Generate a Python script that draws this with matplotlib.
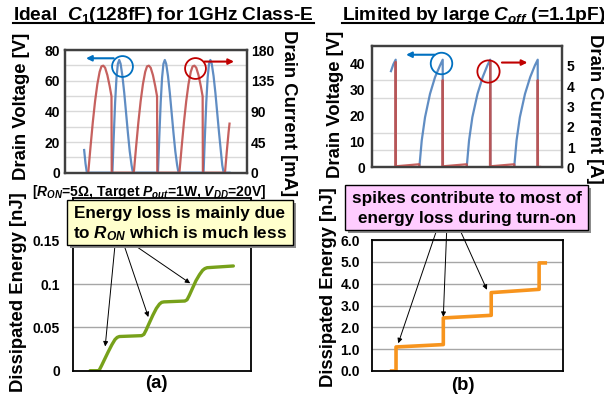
import matplotlib
matplotlib.use("Agg")
import matplotlib.pyplot as plt
from matplotlib.patches import Rectangle
from matplotlib.lines import Line2D
from matplotlib.ticker import MultipleLocator, FixedLocator

W, H = 604, 401
plt.rcParams['font.family'] = ['Liberation Sans', 'DejaVu Sans']
plt.rcParams['font.weight'] = 'bold'
plt.rcParams['mathtext.fontset'] = 'custom'
plt.rcParams['mathtext.rm'] = 'Liberation Sans:bold'
plt.rcParams['mathtext.it'] = 'Liberation Sans:italic:bold'
plt.rcParams['mathtext.bf'] = 'Liberation Sans:bold'

# ---------------- data ----------------
# (a) top: drain current [mA] vs time [ns]
cur_a_t = [0.51, 0.56, 0.61, 0.66, 0.71, 0.76, 0.80, 0.84, 0.88, 0.93, 0.98, 1.02, 1.025,
           1.51, 1.56, 1.61, 1.66, 1.71, 1.76, 1.80, 1.84, 1.88, 1.93, 1.98, 2.02, 2.025,
           2.51, 2.56, 2.61, 2.66, 2.71, 2.76, 2.80, 2.84, 2.88, 2.93, 2.98, 3.02, 3.025,
           3.51, 3.55, 3.59, 3.61]
cur_a_v = [0, 38, 74, 105, 130, 148, 156, 157, 154, 143, 127, 112, 0,
           0, 38, 74, 105, 130, 148, 156, 157, 154, 143, 127, 112, 0,
           0, 38, 74, 105, 130, 148, 156, 157, 154, 143, 127, 112, 0,
           0, 31, 60, 72]
# (a) top: drain voltage [V]
vol_a_t = [0.42, 0.45, 0.48,
           1.04, 1.07, 1.10, 1.13, 1.16, 1.19, 1.22, 1.26, 1.30, 1.34, 1.38, 1.42, 1.46, 1.49,
           2.04, 2.07, 2.10, 2.13, 2.16, 2.19, 2.22, 2.26, 2.30, 2.34, 2.38, 2.42, 2.46, 2.49,
           3.04, 3.07, 3.10, 3.13, 3.16, 3.19, 3.22, 3.26, 3.30, 3.34, 3.38, 3.42, 3.45, 3.48,
           3.61]
vol_a_v = [14.8, 6, 0,
           0, 24, 46, 62, 71, 73.5, 71, 63, 52, 39, 26, 14, 5, 0,
           0, 24, 46, 62, 71, 73.5, 71, 63, 52, 39, 26, 14, 5, 0,
           0, 24, 46, 62, 71, 73.5, 71, 63, 52, 39, 26, 14, 5, 0,
           0]
# (a) bottom: dissipated energy [nJ]
en_a_t = [0.39, 0.575, 0.60, 0.65, 0.72, 0.80, 0.88, 0.95, 1.00, 1.05,
          1.55, 1.60, 1.65, 1.72, 1.80, 1.88, 1.95, 2.00, 2.05,
          2.52, 2.57, 2.62, 2.69, 2.77, 2.85, 2.92, 2.97, 3.02, 3.61]
en_a_v = [0, 0, 0.001, 0.006, 0.0135, 0.022, 0.030, 0.036, 0.0385, 0.0395,
          0.0405, 0.042, 0.047, 0.055, 0.064, 0.072, 0.077, 0.0790, 0.0795,
          0.0805, 0.082, 0.087, 0.095, 0.104, 0.111, 0.116, 0.118, 0.119, 0.121]

# (b) top: drain current [A]
cur_b_t = [0.39, 0.505, 0.51, 0.515, 1.01, 1.015, 1.505, 1.51, 1.515, 2.02, 2.025,
           2.515, 2.52, 2.525, 3.03, 3.035, 3.525, 3.53, 3.535, 3.58]
cur_b_v = [0, 0, 5.2, 0.05, 0.15, 0, 0, 4.3, 0.05, 0.15, 0,
           0, 5.2, 0.05, 0.15, 0, 0, 4.3, 0.02, 0.02]
# (b) top: drain voltage [V]
vol_b_t = [0.41, 0.46, 0.51, 0.512,
           1.013, 1.064, 1.134, 1.24, 1.347, 1.453, 1.51, 1.512,
           2.02, 2.07, 2.14, 2.25, 2.36, 2.46, 2.52, 2.522,
           3.03, 3.08, 3.15, 3.26, 3.37, 3.47, 3.53, 3.532, 3.58]
vol_b_v = [36.9, 39.5, 41.3, 0,
           0, 10.3, 19.2, 28.2, 34.6, 39.1, 41.3, 0,
           0, 10.3, 19.2, 28.2, 34.6, 39.1, 41.3, 0,
           0, 10.3, 19.2, 28.2, 34.6, 39.1, 41.3, 0, 0]
# (b) bottom: dissipated energy [nJ]
en_b_t = [0.42, 0.513, 0.513, 1.51, 1.51, 2.52, 2.52, 3.53, 3.53, 3.66]
en_b_v = [0, 0, 1.10, 1.21, 2.43, 2.55, 3.59, 3.74, 4.95, 4.95]

ticks_a_v = [0, 20, 40, 60, 80]
ticks_a_i = [0, 45, 90, 135, 180]
ticks_b_v = [0, 10, 20, 30, 40]
ticks_b_i = [0, 1, 2, 3, 4, 5]
ticks_ea = [0, 0.05, 0.1, 0.15]
ticks_ea_lbl = ['0', '0.05', '0.1', '0.15']
ticks_eb = [0, 1, 2, 3, 4, 5, 6]
ticks_eb_lbl = ['0.0', '1.0', '2.0', '3.0', '4.0', '5.0', '6.0']

RED = '#C0504D'
BLUE = '#4F81BD'
GREEN = '#77A11A'
ORANGE = '#F7941D'

fig = plt.figure(figsize=(W / 100, H / 100), dpi=100)


def rect(l, t, r, b):
    return [l / W, 1 - b / H, (r - l) / W, (b - t) / H]


def ftext(x, y, s, **kw):
    return fig.text(x / W, 1 - y / H, s, **kw)


def frame(ax, color, lw):
    for sp in ax.spines.values():
        sp.set_color(color)
        sp.set_linewidth(lw)


# ---------- (a) top ----------
axA = fig.add_axes(rect(65, 50, 247.3, 172.7))
axA.set_xlim(0, 4)
axA.set_ylim(0, 80)
axA.set_xticks([])
axA.set_yticks(ticks_a_v)
axA.yaxis.set_minor_locator(MultipleLocator(10))
axA.grid(axis='y', which='both', color='#D9D9D9', lw=1.0)
axA.set_axisbelow(True)
axA.tick_params(axis='y', which='both', length=0, pad=3.6, labelsize=10)
axA.plot(vol_a_t, vol_a_v, color=BLUE, lw=1.6, alpha=0.9, zorder=3)
frame(axA, '#404040', 1.6)
axA2 = axA.twinx()
axA2.set_ylim(0, 180)
axA2.set_yticks(ticks_a_i)
axA2.tick_params(axis='y', length=0, pad=2.5, labelsize=10)
axA2.plot(cur_a_t, cur_a_v, color=RED, lw=1.6, alpha=0.9)
frame(axA2, '#404040', 1.6)
# circles and arrows
axA2.plot([1.24], [69.5 * 180 / 80], 'o', ms=15, mfc='none', mec='#0070C0', mew=1.3, zorder=5)
axA2.annotate('', xy=(0.40, 74.6 * 180 / 80), xytext=(1.13, 74.6 * 180 / 80),
              arrowprops=dict(arrowstyle='-|>', color='#0070C0', lw=1.5, mutation_scale=8))
axA2.plot([2.85], [153], 'o', ms=15, mfc='none', mec='#C00000', mew=1.3, zorder=5)
axA2.annotate('', xy=(3.77, 163), xytext=(3.0, 163),
              arrowprops=dict(arrowstyle='-|>', color='#C00000', lw=1.5, mutation_scale=8))

# ---------- (b) top ----------
axB = fig.add_axes(rect(371.7, 45.7, 561.7, 167.3))
axB.set_xlim(0, 4.04)
axB.set_ylim(0, 140 / 3)
axB.set_xticks([])
axB.set_yticks(ticks_b_v)
axB.yaxis.set_minor_locator(FixedLocator([20 / 3 * k for k in range(1, 7)]))
axB.grid(axis='y', which='minor', color='#D9D9D9', lw=1.0)
axB.grid(axis='y', which='major', visible=False)
axB.set_axisbelow(True)
axB.tick_params(axis='y', which='both', length=0, pad=4.8, labelsize=10)
axB.plot(vol_b_t, vol_b_v, color=BLUE, lw=1.6, alpha=0.9)
frame(axB, '#404040', 1.6)
axB2 = axB.twinx()
axB2.set_ylim(0, 6)
axB2.set_yticks(ticks_b_i)
axB2.tick_params(axis='y', length=0, pad=3.6, labelsize=10)
axB2.plot(cur_b_t, cur_b_v, color=RED, lw=1.6, alpha=0.9)
frame(axB2, '#404040', 1.6)
axB2.plot([1.474], [40 * 6 / (140 / 3)], 'o', ms=15.5, mfc='none', mec='#0070C0', mew=1.3, zorder=5)
axB2.annotate('', xy=(0.672, 43.2 * 6 / (140 / 3)), xytext=(1.396, 43.2 * 6 / (140 / 3)),
              arrowprops=dict(arrowstyle='-|>', color='#0070C0', lw=1.5, mutation_scale=8))
axB2.plot([2.468], [37 * 6 / (140 / 3)], 'o', ms=16, mfc='none', mec='#C00000', mew=1.3, zorder=5)
axB2.annotate('', xy=(3.37, 40.2 * 6 / (140 / 3)), xytext=(2.71, 40.2 * 6 / (140 / 3)),
              arrowprops=dict(arrowstyle='-|>', color='#C00000', lw=1.5, mutation_scale=8))

# ---------- (a) bottom ----------
axC = fig.add_axes(rect(72.7, 197.6, 250.7, 370.7))
axC.set_xlim(0, 4)
axC.set_ylim(0, 0.2)
axC.set_xticks([])
axC.set_yticks(ticks_ea)
axC.set_yticklabels(ticks_ea_lbl)
axC.grid(axis='y', color='#A6A6A6', lw=1.0)
axC.set_axisbelow(True)
axC.tick_params(axis='y', length=0, pad=9, labelsize=10)
axC.plot(en_a_t, en_a_v, color=GREEN, lw=2.4, solid_capstyle='round')
frame(axC, 'black', 1.3)
arrow_kw = dict(arrowstyle='-|>', color='black', lw=0.7, mutation_scale=7, shrinkA=0, shrinkB=0)
axC.annotate('', xy=(0.73, 0.028), xytext=(115, H - 245), textcoords='figure pixels', arrowprops=arrow_kw)
axC.annotate('', xy=(1.70, 0.062), xytext=(124, H - 245), textcoords='figure pixels', arrowprops=arrow_kw)
axC.annotate('', xy=(2.64, 0.101), xytext=(136.7, H - 246.7), textcoords='figure pixels', arrowprops=arrow_kw)

# ---------- (b) bottom ----------
axD = fig.add_axes(rect(371.7, 240, 563.3, 371))
axD.set_xlim(0, 4.04)
axD.set_ylim(0, 6)
axD.set_xticks([])
axD.set_yticks(ticks_eb)
axD.set_yticklabels(ticks_eb_lbl)
axD.grid(axis='y', color='#A6A6A6', lw=1.0)
axD.set_axisbelow(True)
axD.tick_params(axis='y', length=0, pad=8.4, labelsize=10)
axD.plot(en_b_t, en_b_v, color=ORANGE, lw=2.6)
frame(axD, 'black', 1.3)
axD.annotate('', xy=(0.56, 1.27), xytext=(436.7, H - 230), textcoords='figure pixels', arrowprops=arrow_kw)
axD.annotate('', xy=(1.51, 2.48), xytext=(446.7, H - 230), textcoords='figure pixels', arrowprops=arrow_kw)
axD.annotate('', xy=(2.43, 3.72), xytext=(460, H - 230), textcoords='figure pixels', arrowprops=arrow_kw)

# ---------- boxes ----------
def box(l, t, r, b, fc):
    sh = Rectangle((l / W + 3 / W, 1 - (b + 3) / H), (r - l) / W, (b - t) / H,
                   transform=fig.transFigure, fc='#8C8C8C', ec='none', zorder=5)
    bx = Rectangle((l / W, 1 - b / H), (r - l) / W, (b - t) / H,
                   transform=fig.transFigure, fc=fc, ec='black', lw=1.0, zorder=6)
    fig.add_artist(sh)
    fig.add_artist(bx)

box(66.7, 200, 293.3, 245, '#FFFFCC')
box(345, 185, 588.3, 230, '#FFCCFF')
ftext(180, 213.3, 'Energy loss is mainly due', ha='center', va='center', fontsize=12.3, zorder=7)
ftext(180, 233.8, 'to $R_{ON}$ which is much less', ha='center', va='center', fontsize=12.3, zorder=7)
ftext(466.7, 198.3, 'spikes contribute to most of', ha='center', va='center', fontsize=12.3, zorder=7)
ftext(466.7, 218.3, 'energy loss during turn-on', ha='center', va='center', fontsize=12.3, zorder=7)

# ---------- labels ----------
LS = 13.3
ftext(21.7, 106.7, 'Drain Voltage [V]', rotation=90, ha='center', va='center', fontsize=LS)
ftext(288.3, 113, 'Drain Current [mA]', rotation=270, ha='center', va='center', fontsize=LS)
ftext(335, 104, 'Drain Voltage [V]', rotation=90, ha='center', va='center', fontsize=LS)
ftext(595, 109, 'Drain Current [A]', rotation=270, ha='center', va='center', fontsize=LS)
ftext(18.3, 292, 'Dissipated Energy [nJ]', rotation=90, ha='center', va='center', fontsize=LS)
ftext(328.3, 287, 'Dissipated Energy [nJ]', rotation=90, ha='center', va='center', fontsize=LS)
ftext(156.7, 383, '(a)', ha='center', va='center', fontsize=LS)
ftext(463.3, 386, '(b)', ha='center', va='center', fontsize=LS)
ftext(149, 191.7, '[$R_{ON}$=5Ω, Target $P_{out}$=1W, $V_{DD}$=20V]', ha='center', va='center', fontsize=10)

t1 = ftext(13.3, 15, 'Ideal  $C_{1}$(128fF) for 1GHz Class-E', ha='left', va='center', fontsize=13.8)
t2 = ftext(341.7, 15, 'Limited by large $C_{off}$ (=1.1pF)', ha='left', va='center', fontsize=13.8)

fig.canvas.draw()
for t in (t1, t2):
    bb = t.get_window_extent()
    fig.add_artist(Line2D([bb.x0 / W, bb.x1 / W], [1 - 23 / H, 1 - 23 / H],
                          transform=fig.transFigure, color='black', lw=1.5))

fig.savefig('out.png', dpi=100)
